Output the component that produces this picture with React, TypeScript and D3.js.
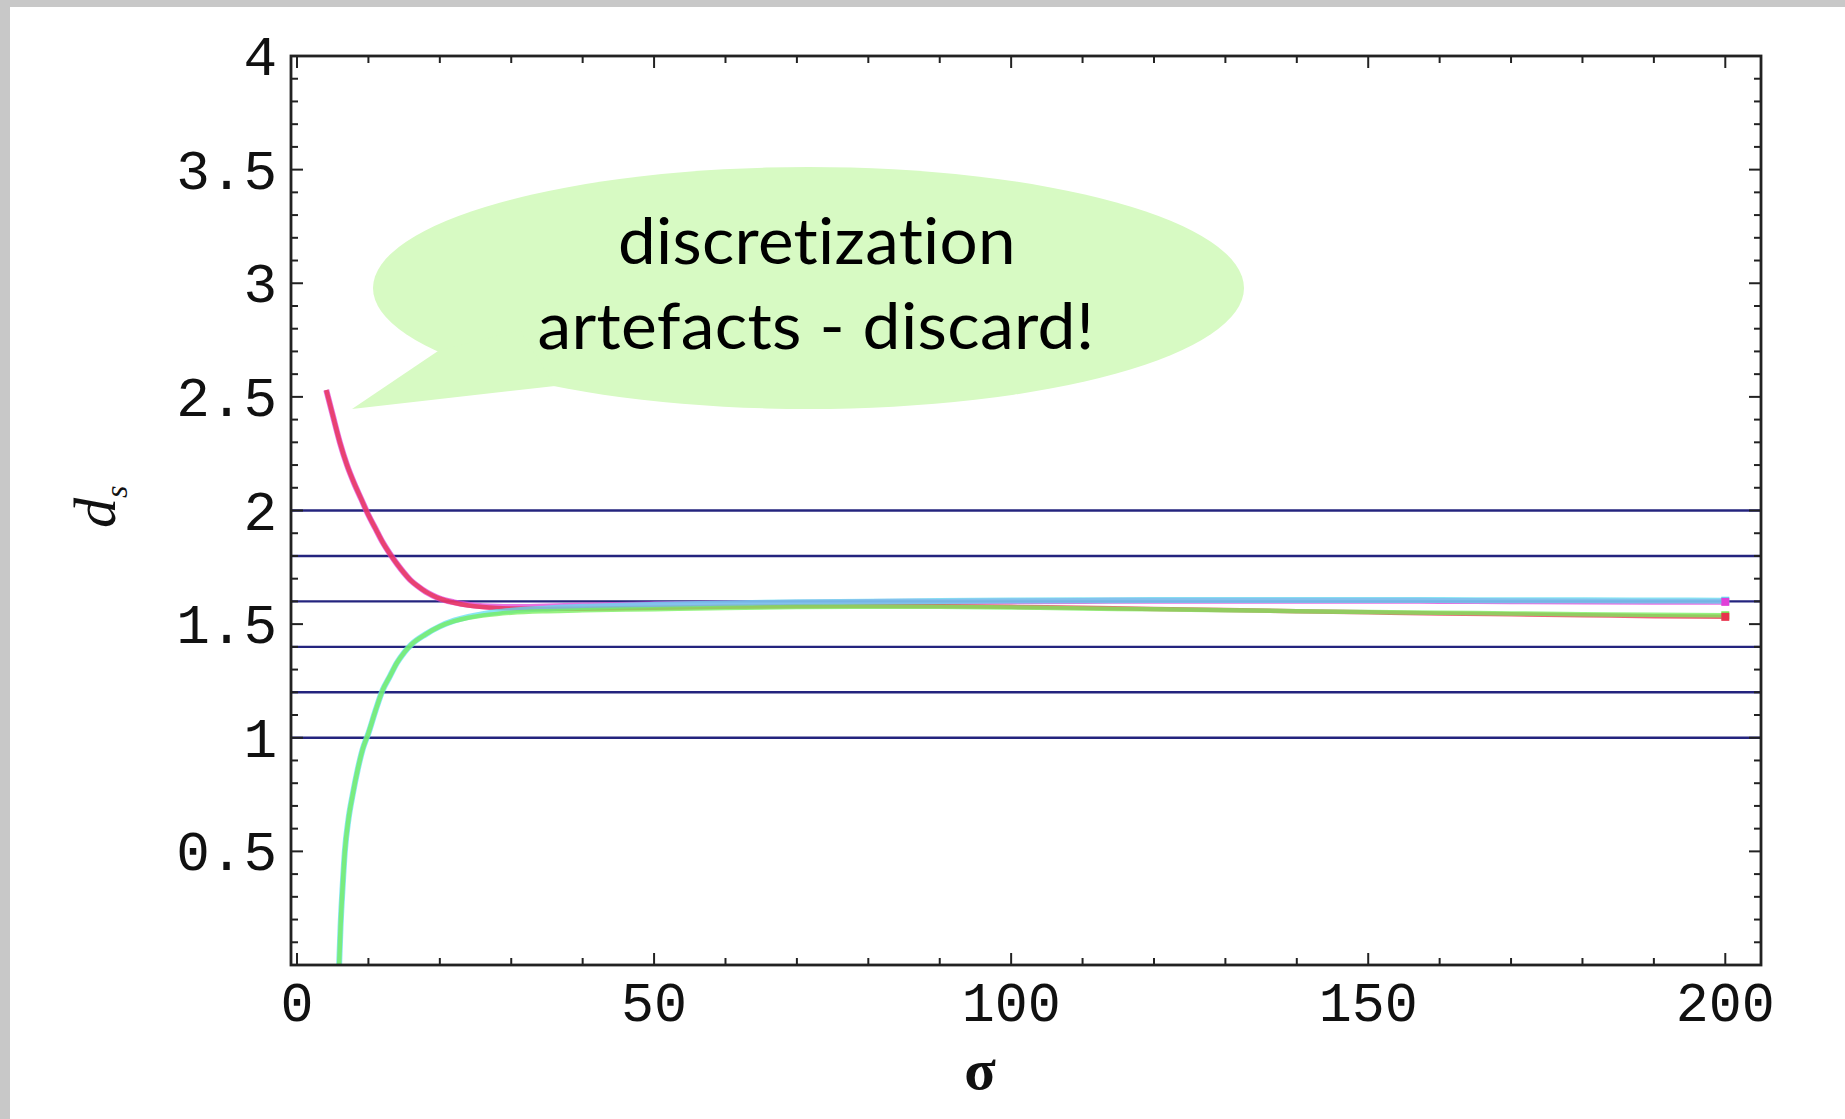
import React from 'react';
import * as d3 from 'd3';

// ---------- data ----------
const xTicksMajor = [0, 50, 100, 150, 200];
const xTicksMinor = d3.range(0, 201, 10).filter((v) => v % 50 !== 0);
const yTicksMajor = [0.5, 1, 1.5, 2, 2.5, 3, 3.5, 4];
const yTicksMinor = d3.range(1, 40).map((v) => v / 10).filter((v) => Math.round(v * 10) % 5 !== 0);
const refLevels = [1.0, 1.2, 1.4, 1.6, 1.8, 2.0];

const sigmaHigh = [4.1, 5, 6, 7, 8, 9, 10, 11, 12, 13, 14, 15, 16, 17, 18, 19, 20, 22, 24, 26, 28, 30, 35, 40,
  50, 60, 70, 80, 90, 100, 110, 120, 130, 140, 150, 160, 170, 180, 190, 200];
const redValues = [2.53, 2.42, 2.30, 2.20, 2.12, 2.05, 1.98, 1.92, 1.86, 1.81, 1.765, 1.725, 1.69, 1.665, 1.643, 1.626, 1.612,
  1.594, 1.582, 1.575, 1.571, 1.569, 1.567, 1.568,
  1.572, 1.576, 1.579, 1.58, 1.579, 1.576, 1.572, 1.567, 1.562, 1.557, 1.552, 1.547, 1.543, 1.539, 1.535, 1.532];
const magentaValues = [2.53, 2.42, 2.30, 2.20, 2.12, 2.05, 1.98, 1.92, 1.86, 1.81, 1.765, 1.725, 1.69, 1.665, 1.643, 1.626, 1.612,
  1.596, 1.585, 1.579, 1.576, 1.575, 1.578, 1.582,
  1.587, 1.591, 1.594, 1.597, 1.599, 1.601, 1.602, 1.603, 1.603, 1.603, 1.603, 1.602, 1.601, 1.6, 1.599, 1.598];

const sigmaLow = [5.9, 6.1, 6.4, 6.7, 7.2, 7.8, 8.5, 9.2, 10, 11, 12, 13, 14, 15, 16, 18, 20, 22, 24, 26, 28, 30, 35, 40,
  50, 60, 70, 80, 90, 100, 110, 120, 130, 140, 150, 160, 170, 180, 190, 200];
const greenValues = [0, 0.17, 0.35, 0.5, 0.64, 0.75, 0.86, 0.95, 1.02, 1.12, 1.21, 1.27, 1.33, 1.375, 1.41, 1.455, 1.49,
  1.513, 1.528, 1.538, 1.545, 1.55, 1.557, 1.561,
  1.566, 1.571, 1.575, 1.577, 1.576, 1.573, 1.569, 1.565, 1.561, 1.557, 1.553, 1.55, 1.547, 1.544, 1.541, 1.539];
const cyanValues = [0, 0.17, 0.35, 0.5, 0.64, 0.75, 0.86, 0.95, 1.02, 1.12, 1.21, 1.27, 1.33, 1.375, 1.41, 1.455, 1.49,
  1.515, 1.532, 1.544, 1.553, 1.559, 1.569, 1.576,
  1.585, 1.591, 1.596, 1.599, 1.602, 1.604, 1.605, 1.606, 1.606, 1.606, 1.606, 1.606, 1.605, 1.605, 1.604, 1.603];

const seriesNames = ['magenta', 'red', 'cyan', 'green'];
const seriesColors = ['#e040d8', '#e8334c', '#62def0', '#74ee58'];

const bubbleLines = ['discretization', 'artefacts - discard!'];
const xLabel = 'σ';

// ---------- layout ----------
const W = 1845;
const H = 1119;
const left = 291, right = 1761, top = 56, bottom = 965;

export default function App() {
  const x = d3.scaleLinear().domain([-0.84, 205]).range([left, right]);
  const y = d3.scaleLinear().domain([0, 4]).range([bottom, top]);

  const series = [
    { s: sigmaHigh, v: magentaValues },
    { s: sigmaHigh, v: redValues },
    { s: sigmaLow, v: cyanValues },
    { s: sigmaLow, v: greenValues },
  ].map((d, i) => ({
    name: seriesNames[i],
    color: seriesColors[i],
    pts: d.s.map((sv, j) => [sv, d.v[j]] as [number, number]),
  }));

  const line = d3
    .line<[number, number]>()
    .x((d) => x(d[0]))
    .y((d) => y(d[1]))
    .curve(d3.curveMonotoneX);

  const monoFont = '"Liberation Mono", "DejaVu Sans Mono", monospace';
  const frameColor = '#222';

  const markerOrder = [2, 3, 0, 1];
  const noLig = { fontVariantLigatures: 'none', fontFeatureSettings: '"liga" 0, "clig" 0, "dlig" 0' } as React.CSSProperties;

  return (
    <svg
      width={W}
      height={H}
      style={{ position: 'absolute', left: 0, top: 0, display: 'block', background: '#fff' }}
    >
      <rect x={0} y={0} width={W} height={7} fill="#c8c8c8" />
      <rect x={0} y={0} width={10} height={H} fill="#c8c8c8" />

      <defs>
        <clipPath id="plotclip">
          <rect x={left} y={top} width={right - left} height={bottom - top} />
        </clipPath>
      </defs>

      {/* reference lines */}
      {refLevels.map((v) => (
        <line key={v} x1={left} x2={right} y1={y(v)} y2={y(v)} stroke="#24247e" strokeWidth={2.4} />
      ))}

      {/* curves */}
      <g clipPath="url(#plotclip)">
        {series.map((s, i) => (
          <path
            key={s.name}
            d={line(s.pts) || ''}
            fill="none"
            stroke={s.color}
            strokeWidth={i % 2 === 0 ? 6 : 4.5}
            strokeOpacity={0.75}
            strokeLinejoin="round"
          />
        ))}
        {markerOrder.map((i) => {
          const s = series[i];
          const p = s.pts[s.pts.length - 1];
          return (
            <rect
              key={'m' + s.name}
              x={x(p[0]) - 4}
              y={y(p[1]) - 4}
              width={8}
              height={8}
              fill={s.color}
            />
          );
        })}
      </g>

      {/* frame */}
      <rect x={left} y={top} width={right - left} height={bottom - top} fill="none" stroke={frameColor} strokeWidth={2.8} />

      {/* x ticks */}
      {xTicksMajor.map((v) => (
        <g key={'xM' + v}>
          <line x1={x(v)} x2={x(v)} y1={bottom} y2={bottom - 12} stroke={frameColor} strokeWidth={2} />
          <line x1={x(v)} x2={x(v)} y1={top} y2={top + 12} stroke={frameColor} strokeWidth={2} />
          <text x={x(v)} y={bottom + 56} textAnchor="middle" fontFamily={monoFont} fontSize={55} fill="#111">
            {String(v)}
          </text>
        </g>
      ))}
      {xTicksMinor.map((v) => (
        <g key={'xm' + v}>
          <line x1={x(v)} x2={x(v)} y1={bottom} y2={bottom - 7} stroke={frameColor} strokeWidth={2} />
          <line x1={x(v)} x2={x(v)} y1={top} y2={top + 7} stroke={frameColor} strokeWidth={2} />
        </g>
      ))}

      {/* y ticks */}
      {yTicksMajor.map((v) => (
        <g key={'yM' + v}>
          <line x1={left} x2={left + 12} y1={y(v)} y2={y(v)} stroke={frameColor} strokeWidth={2} />
          <line x1={right} x2={right - 12} y1={y(v)} y2={y(v)} stroke={frameColor} strokeWidth={2} />
          <text
            x={left - 14}
            y={y(v)}
            dy="0.34em"
            textAnchor="end"
            fontFamily={monoFont}
            fontSize={56}
            fill="#111"
          >
            {String(v)}
          </text>
        </g>
      ))}
      {yTicksMinor.map((v) => (
        <g key={'ym' + v}>
          <line x1={left} x2={left + 7} y1={y(v)} y2={y(v)} stroke={frameColor} strokeWidth={2} />
          <line x1={right} x2={right - 7} y1={y(v)} y2={y(v)} stroke={frameColor} strokeWidth={2} />
        </g>
      ))}

      {/* axis labels */}
      <text x={980} y={1089} textAnchor="middle" fontFamily='"Liberation Serif", "DejaVu Serif", serif' fontSize={58} fontWeight="bold" fill="#111">
        {xLabel}
      </text>
      <text
        transform="translate(115,528) rotate(-90)"
        fontFamily='"Liberation Serif", "DejaVu Serif", serif'
        fontStyle="italic"
        fontSize={60}
        fill="#111"
      >
        d
        <tspan fontSize={32} dy={12}>s</tspan>
      </text>

      {/* speech bubble */}
      <g>
        <ellipse cx={808.5} cy={288} rx={435.5} ry={121} fill="#d7fac3" />
        <polygon points="438,351 352,409 555,386 520,330" fill="#d7fac3" />
        <text x={817} y={264} textAnchor="middle" fontFamily='Lato, "Open Sans", sans-serif' fontSize={64} fill="#000"
          letterSpacing={0.3} style={noLig} textLength={398} lengthAdjust="spacingAndGlyphs">
          {bubbleLines[0]}
        </text>
        <text x={816} y={349} textAnchor="middle" fontFamily='Lato, "Open Sans", sans-serif' fontSize={64} fill="#000"
          letterSpacing={0.3} style={noLig} textLength={557} lengthAdjust="spacingAndGlyphs">
          {bubbleLines[1]}
        </text>
      </g>
    </svg>
  );
}
